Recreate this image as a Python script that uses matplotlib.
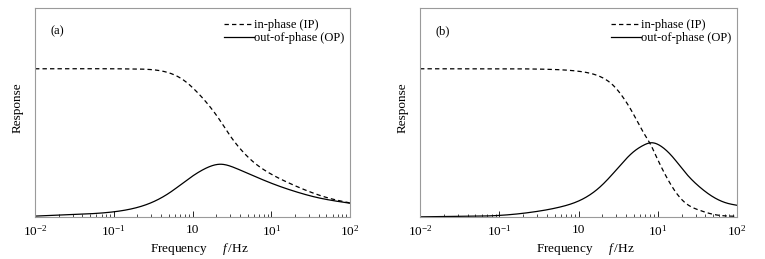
import matplotlib
matplotlib.use("Agg")
import matplotlib.pyplot as plt
import numpy as np
from matplotlib.ticker import FixedLocator, NullFormatter, LogLocator

plt.rcParams['font.family'] = ['Liberation Serif', 'DejaVu Serif']
plt.rcParams['mathtext.fontset'] = 'custom'
plt.rcParams['mathtext.rm'] = 'Liberation Serif'
plt.rcParams['mathtext.it'] = 'Liberation Serif:italic'

# log10 of frequency (Hz) and read-off responses (low-frequency plateau = 1)
a_ip_logf = [-2.0, -1.5, -1.0, -0.8, -0.54, -0.29, -0.12, 0.05, 0.22, 0.345, 0.47, 0.6, 0.767, 0.98, 1.23, 1.485, 1.74, 2.0]
a_ip = [1.0, 1.0, 1.0, 0.999, 0.995, 0.971, 0.926, 0.847, 0.745, 0.655, 0.554, 0.464, 0.374, 0.295, 0.228, 0.171, 0.126, 0.095]
a_op_logf = [-2.0, -1.5, -1.0, -0.8, -0.54, -0.29, -0.04, 0.17, 0.36, 0.55, 0.8, 1.06, 1.31, 1.57, 2.0]
a_op = [0.006, 0.017, 0.035, 0.052, 0.093, 0.164, 0.261, 0.329, 0.356, 0.329, 0.272, 0.216, 0.171, 0.133, 0.093]

b_ip_logf = [-2.0, -1.5, -1.0, -0.36, 0.018, 0.27, 0.44, 0.56, 0.69, 0.816, 0.9, 0.985, 1.11, 1.24, 1.36, 1.53, 1.7, 2.0]
b_ip = [1.0, 1.0, 1.0, 0.996, 0.982, 0.948, 0.887, 0.809, 0.697, 0.573, 0.499, 0.404, 0.27, 0.158, 0.09, 0.045, 0.018, 0.005]
b_op_logf = [-2.0, -1.5, -0.99, -0.57, -0.235, 0.018, 0.27, 0.48, 0.69, 0.816, 0.92, 1.025, 1.19, 1.36, 1.53, 1.7, 1.87, 2.0]
b_op = [0.001, 0.004, 0.011, 0.034, 0.067, 0.112, 0.202, 0.32, 0.438, 0.483, 0.501, 0.483, 0.404, 0.292, 0.202, 0.135, 0.094, 0.079]

tick_vals = [0.01, 0.1, 1, 10, 100]
tick_labels = ['$10^{-2}$', '$10^{-1}$', '10', '$10^{1}$', '$10^{2}$']
panel_labels = ['(a)', '(b)']


def natural_spline(x, y, xs):
    x = np.asarray(x, float)
    y = np.asarray(y, float)
    n = len(x)
    h = np.diff(x)
    A = np.zeros((n, n))
    rhs = np.zeros(n)
    A[0, 0] = 1.0
    A[-1, -1] = 1.0
    for k in range(1, n - 1):
        A[k, k - 1] = h[k - 1]
        A[k, k] = 2 * (h[k - 1] + h[k])
        A[k, k + 1] = h[k]
        rhs[k] = 6 * ((y[k + 1] - y[k]) / h[k] - (y[k] - y[k - 1]) / h[k - 1])
    M = np.linalg.solve(A, rhs)
    idx = np.clip(np.searchsorted(x, xs) - 1, 0, n - 2)
    hh = h[idx]
    a = x[idx + 1] - xs
    b = xs - x[idx]
    return (M[idx] * a**3 / (6 * hh) + M[idx + 1] * b**3 / (6 * hh)
            + (y[idx] / hh - M[idx] * hh / 6) * a
            + (y[idx + 1] / hh - M[idx + 1] * hh / 6) * b)


def smooth(logf, y):
    xs = np.linspace(logf[0], logf[-1], 600)
    return 10 ** xs, natural_spline(logf, y, xs)


fig = plt.figure(figsize=(7.65, 2.59), dpi=100)
W, H = 765, 259
axes_px = [(35, 8, 350, 217), (420, 8, 737, 217)]
data = [((a_ip_logf, a_ip), (a_op_logf, a_op)), ((b_ip_logf, b_ip), (b_op_logf, b_op))]

for i, ((l, t, r, b), (ip, op)) in enumerate(zip(axes_px, data)):
    ax = fig.add_axes([l / W, 1 - b / H, (r - l) / W, (b - t) / H])
    x1, y1 = smooth(*ip)
    x2, y2 = smooth(*op)
    ax.plot(x1, y1, color='black', lw=0.9, ls=(0, (3.5, 2.5)), label='in-phase (IP)')
    ax.plot(x2, y2, color='black', lw=0.9, label='out-of-phase (OP)')
    ax.set_xscale('log')
    ax.set_xlim(0.01, 100)
    ax.set_ylim(0, 1.41)
    ax.xaxis.set_major_locator(FixedLocator(tick_vals))
    ax.set_xticklabels(tick_labels)
    ax.xaxis.set_minor_locator(LogLocator(base=10, subs=np.arange(2, 10), numticks=20))
    ax.xaxis.set_minor_formatter(NullFormatter())
    ax.tick_params(axis='x', which='major', direction='in', length=4, width=0.6, labelsize=9.5, pad=5)
    ax.tick_params(axis='x', which='minor', direction='in', length=2.2, width=0.5)
    ax.set_yticks([])
    for s in ax.spines.values():
        s.set_color('#9a9a9a')
        s.set_linewidth(0.8)
    ax.set_ylabel('Response', fontsize=9.5)
    ax.yaxis.set_label_coords(-0.036, 0.525)
    ax.set_xlabel('Frequency     $f\\,$/Hz', fontsize=9.5)
    ax.xaxis.set_label_coords(0.52, -0.115)
    ax.text(0.05, 0.875, panel_labels[i], transform=ax.transAxes, fontsize=9)
    ax.legend(loc='upper right', frameon=False, fontsize=9, handlelength=2.4,
              handletextpad=0.0, borderaxespad=0.1, labelspacing=0.05,
              bbox_to_anchor=(1.0, 0.975))

fig.savefig('out.png', dpi=100)
